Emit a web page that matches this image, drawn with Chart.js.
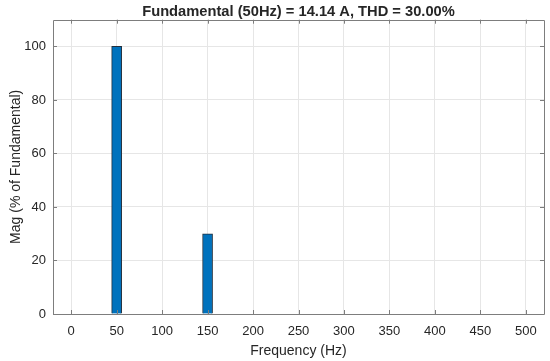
<!DOCTYPE html>
<html>
<head>
<meta charset="utf-8">
<script src="https://cdn.jsdelivr.net/npm/chart.js@4/dist/chart.umd.min.js"></script>
<style>
html, body { margin: 0; padding: 0; background: #fff; }
</style>
</head>
<body>
<canvas id="fftChart" width="550" height="361"></canvas>
<script>
// harmonic bins (Hz) and magnitude in % of fundamental
var freqs = [0, 50, 100, 150, 200, 250, 300, 350, 400, 450, 500]
var mags = [0, 100, 0, 30, 0, 0, 0, 0, 0, 0, 0]
var xTickValues = [0, 50, 100, 150, 200, 250, 300, 350, 400, 450, 500]
var yTickValues = [0, 20, 40, 60, 80, 100]
var chartTitle = "Fundamental (50Hz) = 14.14 A, THD = 30.00%"
var xTitle = "Frequency (Hz)"
var yTitle = "Mag (% of Fundamental)"

var textColor = "#262626"
var gridColor = "#e6e6e6"
var boxColor = "#7d7d7d"
var fontFamily = "'Liberation Sans', Arial, Helvetica, sans-serif"

// matlab style box with ticks pointing inward
const axesBox = {
    id: "axesBox",
    afterDatasetsDraw(chart) {
        const ctx = chart.ctx
        const a = chart.chartArea
        const xs = chart.scales.x
        const ys = chart.scales.y
        const tick = 4
        ctx.save()
        ctx.strokeStyle = boxColor
        ctx.lineWidth = 1
        ctx.beginPath()
        ctx.rect(Math.round(a.left) + 0.5, Math.round(a.top) + 0.5, Math.round(a.right - a.left), Math.round(a.bottom - a.top))
        xTickValues.forEach((v) => {
            let px = Math.round(xs.getPixelForValue(v)) + 0.5
            ctx.moveTo(px, a.bottom)
            ctx.lineTo(px, a.bottom - tick)
            ctx.moveTo(px, a.top)
            ctx.lineTo(px, a.top + tick)
        })
        yTickValues.forEach((v) => {
            let py = Math.round(ys.getPixelForValue(v)) + 0.5
            ctx.moveTo(a.left, py)
            ctx.lineTo(a.left + tick, py)
            ctx.moveTo(a.right, py)
            ctx.lineTo(a.right - tick, py)
        })
        ctx.stroke()
        ctx.restore()
    }
}

var points = freqs.map((f, i) => ({x: f, y: mags[i]}))

new Chart(document.getElementById("fftChart"), {
    type: "bar",
    data: {
        datasets: [{
            label: "Mag",
            data: points,
            backgroundColor: "#0072bd",
            borderColor: "#22303e",
            borderWidth: 1,
            borderSkipped: "start",
            barThickness: 10
        }]
    },
    options: {
        responsive: false,
        animation: false,
        devicePixelRatio: 1,
        layout: { padding: { left: 0, right: 6, top: 0, bottom: 0 } },
        plugins: {
            legend: { display: false },
            tooltip: { enabled: false },
            title: {
                display: true,
                text: chartTitle,
                fullSize: false,
                color: textColor,
                font: { family: fontFamily, size: 14.7, weight: "bold", lineHeight: 1 },
                padding: { top: 5, bottom: 0 }
            }
        },
        scales: {
            x: {
                type: "linear",
                min: -20,
                max: 520,
                offset: false,
                afterBuildTicks: (scale) => { scale.ticks = xTickValues.map((v) => ({value: v})) },
                afterFit: (scale) => { scale.height = 47 },
                grid: { color: gridColor, drawTicks: false, offset: false },
                border: { display: false },
                ticks: { color: textColor, padding: 10, font: { family: fontFamily, size: 13 }, maxRotation: 0 },
                title: { display: true, text: xTitle, color: textColor, font: { family: fontFamily, size: 14 }, padding: { top: 0, bottom: 1 } }
            },
            y: {
                min: 0,
                max: 110,
                afterBuildTicks: (scale) => { scale.ticks = yTickValues.map((v) => ({value: v})) },
                afterFit: (scale) => { scale.width = 53 },
                grid: { color: gridColor, drawTicks: false },
                border: { display: false },
                ticks: { color: textColor, padding: 7, font: { family: fontFamily, size: 13 } },
                title: { display: true, text: yTitle, color: textColor, font: { family: fontFamily, size: 14 }, padding: { top: 8, bottom: 0 } }
            }
        }
    },
    plugins: [axesBox]
})
</script>
</body>
</html>
